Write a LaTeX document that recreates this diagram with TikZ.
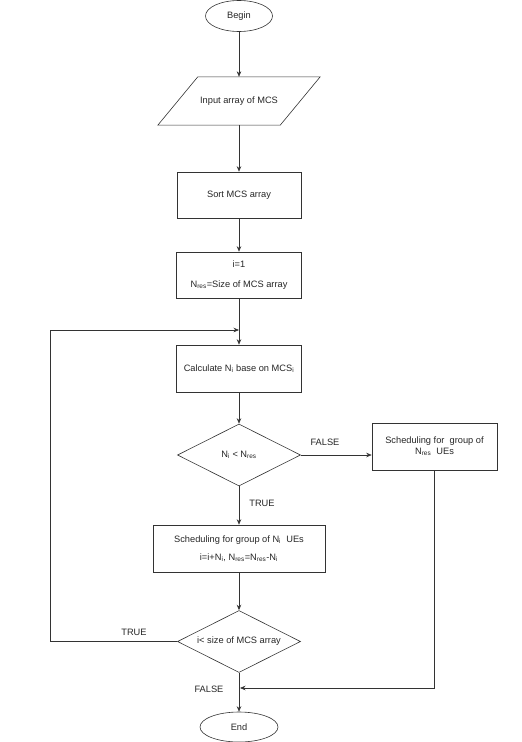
\documentclass[tikz,border=0pt]{standalone}
\usepackage{fontspec}
\setmainfont{Liberation Sans}
\usetikzlibrary{shapes.geometric,arrows.meta,calc}
\begin{document}
\begin{tikzpicture}[x=1bp,y=-1bp,
  every node/.style={font=\fontsize{9.3}{11}\selectfont, text=black!85},
  ln/.style={draw=black!80, line width=0.6pt},
  arr/.style={ln, -{Stealth[length=5.5pt,width=4.5pt]}},
  term/.style={ellipse, draw=black!80, line width=0.6pt, inner sep=0pt},
  procbox/.style={rectangle, draw=black!80, line width=0.6pt, inner sep=0pt, align=center},
  decision/.style={diamond, draw=black!80, line width=0.6pt, inner sep=0pt, aspect=2, minimum width=123bp, minimum height=62bp},
  lbl/.style={inner sep=1pt}]
\useasboundingbox (0,0) rectangle (522,742);
\node[term, minimum width=67bp, minimum height=31bp] (begin) at (239,16) {Begin};
\node[inner sep=0pt, minimum width=162bp, minimum height=48bp] (inp) at (239,101) {Input array of MCS};
\draw[ln] (inp.south west) -- ($(inp.north west)+(40,0)$) -- (inp.north east) -- ($(inp.south east)+(-40,0)$) -- cycle;
\node[procbox, minimum width=124bp, minimum height=46bp] (sort) at (239,195) {Sort MCS array};
\node[procbox, minimum width=125bp, minimum height=46bp] (init) at (239,275) {i=1\\[9pt]N\textsubscript{res}=Size of MCS array};
\node[procbox, minimum width=125bp, minimum height=47bp] (calc) at (239,368.5) {Calculate N\textsubscript{i} base on MCS\textsubscript{i}};
\node[decision] (d1) at (239,455) {N\textsubscript{i} < N\textsubscript{res}};
\node[procbox, minimum width=125bp, minimum height=47bp] (sn) at (434.5,446.5) {Scheduling for \ group of\\N\textsubscript{res} \ UEs};
\node[procbox, minimum width=172bp, minimum height=47bp] (sg) at (239,548.5) {Scheduling for group of N\textsubscript{i} \ UEs\\[7pt]i=i+N\textsubscript{i}, N\textsubscript{res}=N\textsubscript{res}-N\textsubscript{i}};
\node[decision] (d2) at (239,641.5) {i< size of MCS array};
\node[term, minimum width=78bp, minimum height=30bp] (end) at (239,727) {End};
\coordinate (j1) at (239,330);
\coordinate (j2) at (240,688);
\coordinate (c1) at (50,641.5);
\coordinate (c2) at (50,330);
\draw[arr] (begin) -- (inp.north);
\draw[arr] (inp.south) -- (sort);
\draw[arr] (sort) -- (init);
\draw[arr] (init) -- (calc);
\draw[arr] (calc) -- (d1);
\draw[arr] (d1.east) -- (sn.west |- d1.east);
\draw[arr] (d1) -- (sg);
\draw[arr] (sg) -- (d2);
\draw[arr] (d2) -- (end);
\draw[arr] (d2.west) -- (c1) -- (c2) -- (j1);
\draw[arr] (sn.south) |- (j2);
\node[lbl] (f1) at (325,442) {FALSE};
\node[lbl] (t1) at (262,503) {TRUE};
\node[lbl] (t2) at (134,632) {TRUE};
\node[lbl] (f2) at (209,689) {FALSE};
\end{tikzpicture}
\end{document}
